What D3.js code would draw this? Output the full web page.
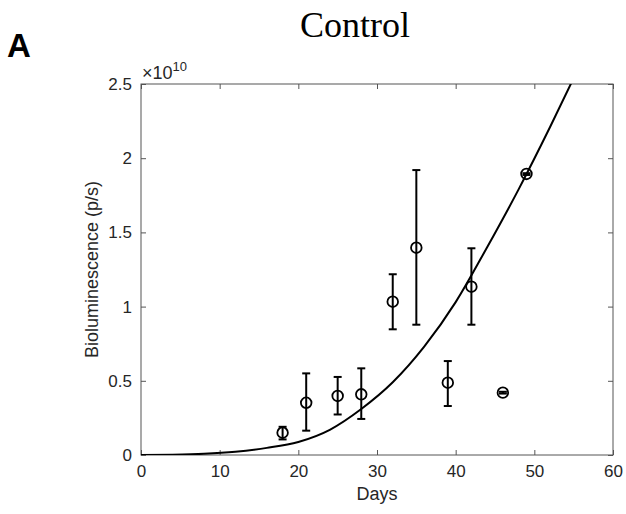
<!DOCTYPE html>
<html>
<head>
<meta charset="utf-8">
<script src="https://cdn.jsdelivr.net/npm/d3@7"></script>
<style>
  body { margin: 0; background: #fff; }
  svg { display: block; }
</style>
</head>
<body>
<div id="chart"></div>
<script>
// measurement days and bioluminescence (x 1e10 p/s)
const days = [18, 21, 25, 28, 32, 35, 39, 42, 46, 49]
const means = [0.15, 0.352, 0.398, 0.409, 1.033, 1.397, 0.487, 1.134, 0.42, 1.894]
const upper = [0.19, 0.55, 0.526, 0.584, 1.218, 1.92, 0.633, 1.393, 0.426, 1.899]
const lower = [0.105, 0.164, 0.273, 0.243, 0.847, 0.878, 0.33, 0.878, 0.414, 1.887]

// fitted growth curve
const fitDays = [0, 4, 8, 12, 16, 20, 24, 28, 32, 36, 40, 44, 48, 52, 55]
const fitValues = [0, 0.002, 0.008, 0.022, 0.048, 0.088, 0.17, 0.31, 0.49, 0.73, 1.03, 1.40, 1.79, 2.21, 2.54]

const xTicks = [0, 10, 20, 30, 40, 50, 60]
const yTicks = [0, 0.5, 1, 1.5, 2, 2.5]

let width = 626
let height = 514
let margin = ({top: 84, right: 13, bottom: 59, left: 141})

let x = d3.scaleLinear()
  .domain([0, 60])
  .range([margin.left, width - margin.right])

let y = d3.scaleLinear()
  .domain([0, 2.5])
  .range([height - margin.bottom, margin.top])

const svg = d3.select("#chart").append("svg")
  .attr("width", width)
  .attr("height", height)
  .attr("viewBox", [0, 0, width, height])

const axisColor = "#555"
const textColor = "#262626"
const font = "'Liberation Sans', Arial, sans-serif"

let styleAxis = g => g
  .call(g => g.selectAll(".domain").remove())
  .call(g => g.selectAll(".tick line").attr("stroke", axisColor))
  .call(g => g.selectAll(".tick text")
    .attr("fill", textColor)
    .attr("font-family", font)
    .attr("font-size", 17))

svg.append("g")
  .attr("transform", `translate(0,${y(0)})`)
  .call(d3.axisBottom(x).tickValues(xTicks).tickFormat(d3.format("d")).tickSize(-5).tickPadding(10))
  .call(styleAxis)

svg.append("g")
  .attr("transform", `translate(0,${y(2.5)})`)
  .call(d3.axisTop(x).tickValues(xTicks).tickFormat("").tickSize(-5))
  .call(styleAxis)

svg.append("g")
  .attr("transform", `translate(${x(0)},0)`)
  .call(d3.axisLeft(y).tickValues(yTicks).tickFormat(d => d).tickSize(-5).tickPadding(9))
  .call(styleAxis)

svg.append("g")
  .attr("transform", `translate(${x(60)},0)`)
  .call(d3.axisRight(y).tickValues(yTicks).tickFormat("").tickSize(-5))
  .call(styleAxis)

// axes box
svg.append("rect")
  .attr("x", x(0))
  .attr("y", y(2.5))
  .attr("width", x(60) - x(0))
  .attr("height", y(0) - y(2.5))
  .attr("fill", "none")
  .attr("stroke", axisColor)
  .attr("stroke-width", 1)

svg.append("clipPath")
  .attr("id", "plotArea")
  .append("rect")
  .attr("x", x(0))
  .attr("y", y(2.5))
  .attr("width", x(60) - x(0))
  .attr("height", y(0) - y(2.5))

let line = d3.line()
  .x(d => x(d[0]))
  .y(d => y(d[1]))
  .curve(d3.curveMonotoneX)

svg.append("path")
  .datum(fitDays.map((d, i) => [d, fitValues[i]]))
  .attr("clip-path", "url(#plotArea)")
  .attr("d", line)
  .attr("fill", "none")
  .attr("stroke", "#000")
  .attr("stroke-width", 2)

let points = days.map((d, i) => ({day: d, mean: means[i], hi: upper[i], lo: lower[i]}))

const bars = svg.append("g")
  .attr("stroke", "#000")
  .attr("stroke-width", 2)
  .attr("fill", "none")

bars.selectAll("line.err")
  .data(points)
  .join("line")
  .attr("class", "err")
  .attr("x1", d => x(d.day))
  .attr("x2", d => x(d.day))
  .attr("y1", d => y(d.lo))
  .attr("y2", d => y(d.hi))

bars.selectAll("line.capHi")
  .data(points)
  .join("line")
  .attr("class", "capHi")
  .attr("x1", d => x(d.day) - 4)
  .attr("x2", d => x(d.day) + 4)
  .attr("y1", d => y(d.hi))
  .attr("y2", d => y(d.hi))

bars.selectAll("line.capLo")
  .data(points)
  .join("line")
  .attr("class", "capLo")
  .attr("x1", d => x(d.day) - 4)
  .attr("x2", d => x(d.day) + 4)
  .attr("y1", d => y(d.lo))
  .attr("y2", d => y(d.lo))

bars.selectAll("circle")
  .data(points)
  .join("circle")
  .attr("cx", d => x(d.day))
  .attr("cy", d => y(d.mean))
  .attr("r", 5.3)
  .attr("stroke-width", 1.8)

// exponent label
const expo = svg.append("text")
  .attr("x", x(0) + 1)
  .attr("y", 79)
  .attr("fill", textColor)
  .attr("font-family", font)
  .attr("font-size", 18)
expo.append("tspan").text("\u00d710")
expo.append("tspan").attr("dy", -8).attr("font-size", 13).text("10")

svg.append("text")
  .attr("x", (x(0) + x(60)) / 2)
  .attr("y", 500)
  .attr("text-anchor", "middle")
  .attr("fill", textColor)
  .attr("font-family", font)
  .attr("font-size", 18)
  .text("Days")

svg.append("text")
  .attr("transform", `translate(98,${(y(0) + y(2.5)) / 2}) rotate(-90)`)
  .attr("text-anchor", "middle")
  .attr("fill", textColor)
  .attr("font-family", font)
  .attr("font-size", 18)
  .text("Bioluminescence (p/s)")

svg.append("text")
  .attr("x", 355)
  .attr("y", 37)
  .attr("text-anchor", "middle")
  .attr("fill", "#000")
  .attr("font-family", "'Liberation Serif', 'Times New Roman', serif")
  .attr("font-size", 36)
  .text("Control")

svg.append("text")
  .attr("x", 7)
  .attr("y", 57)
  .attr("fill", "#000")
  .attr("font-family", font)
  .attr("font-weight", "bold")
  .attr("font-size", 33)
  .text("A")
</script>
</body>
</html>
